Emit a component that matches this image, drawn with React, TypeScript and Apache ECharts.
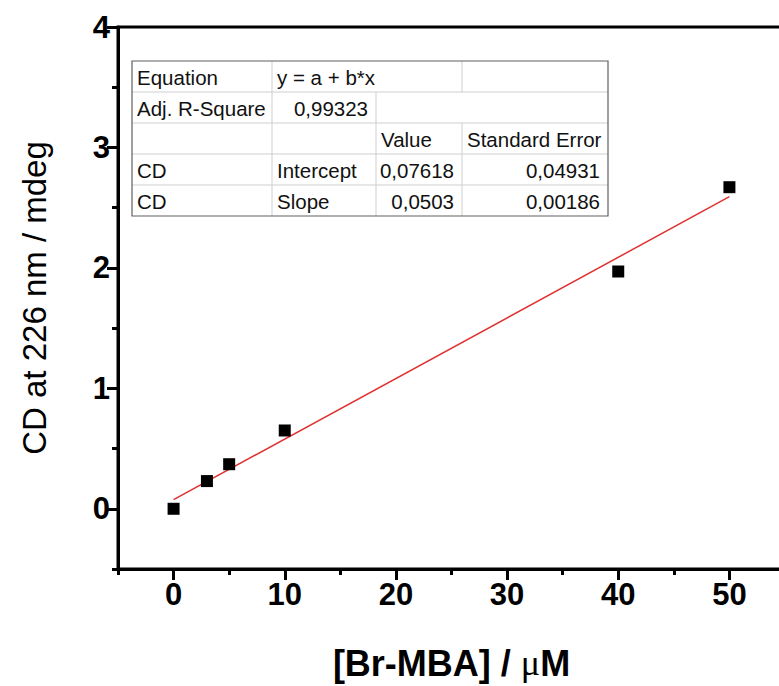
import React, { useEffect, useRef } from "react";
import * as echarts from "echarts";

const concentrations = [0, 3, 5, 10, 40, 50];
const cdValues = [0.0, 0.23, 0.37, 0.65, 1.97, 2.67];
const fitLine = [
  [0, 0.076],
  [50, 2.591],
];
const xMajorTicks = [0, 10, 20, 30, 40, 50];
const xMinorTicks = [-5, 5, 15, 25, 35, 45, 55];
const yMajorTicks = [0, 1, 2, 3, 4];
const yMinorTicks = [-0.5, 0.5, 1.5, 2.5, 3.5];

const tableRows = [
  ["Equation", "y = a + b*x", "", ""],
  ["Adj. R-Square", "0,99323", "", ""],
  ["", "", "Value", "Standard Error"],
  ["CD", "Intercept", "0,07618", "0,04931"],
  ["CD", "Slope", "0,0503", "0,00186"],
];

const FONT = "'Liberation Sans', Arial, Helvetica, sans-serif";

function buildTable() {
  const colX = [132, 272, 376, 462, 608];
  const top = 61;
  const rowH = 31;
  const elems: any[] = [];
  const nRows = tableRows.length;
  const bottom = top + rowH * nRows;
  elems.push({
    type: "rect",
    shape: { x: colX[0], y: top, width: colX[4] - colX[0], height: bottom - top },
    style: { fill: "#fff", stroke: "none" },
    z: 10,
  });
  for (let r = 1; r < nRows; r++) {
    elems.push({
      type: "line",
      shape: { x1: colX[0], y1: top + r * rowH, x2: colX[4], y2: top + r * rowH },
      style: { stroke: "#cfcfcf", lineWidth: 1 },
      z: 11,
    });
  }
  for (let r = 0; r < nRows; r++) {
    const y1 = top + r * rowH;
    const y2 = y1 + rowH;
    const cols = r === 0 ? [1, 3] : r === 1 ? [1, 2] : [1, 2, 3];
    cols.forEach((c) => {
      elems.push({
        type: "line",
        shape: { x1: colX[c], y1, x2: colX[c], y2 },
        style: { stroke: "#cfcfcf", lineWidth: 1 },
        z: 11,
      });
    });
  }
  elems.push({
    type: "rect",
    shape: { x: colX[0], y: top, width: colX[4] - colX[0], height: bottom - top },
    style: { fill: "none", stroke: "#606060", lineWidth: 1.2 },
    z: 12,
  });
  tableRows.forEach((row, r) => {
    row.forEach((txt, c) => {
      if (!txt) return;
      const isNum = /^[0-9]/.test(txt);
      const cy = top + r * rowH + rowH / 2 + 1;
      let x: number;
      let align: string;
      if (isNum) {
        x = colX[c + 1] - 8;
        align = "right";
      } else {
        x = colX[c] + 5;
        align = "left";
      }
      elems.push({
        type: "text",
        x,
        y: cy,
        style: {
          text: txt,
          fontSize: 20.5,
          fontFamily: FONT,
          fill: "#111",
          align,
          verticalAlign: "middle",
        },
        z: 13,
      });
    });
  });
  return elems;
}

export default function App() {
  const ref = useRef<HTMLDivElement>(null);
  useEffect(() => {
    if (!ref.current) return;
    const chart = echarts.init(ref.current, undefined, { renderer: "svg" });
    const axisLine = { show: true, onZero: false, lineStyle: { color: "#000", width: 3 } };
    chart.setOption({
      animation: false,
      backgroundColor: "#fff",
      grid: {
        left: 118,
        top: 27,
        right: 15,
        bottom: 114,
        show: true,
        borderColor: "#000",
        borderWidth: 3,
      },
      xAxis: [
        {
          type: "value",
          min: -5,
          max: 55,
          position: "bottom",
          axisLine,
          splitLine: { show: false },
          axisTick: {
            show: true,
            customValues: xMajorTicks,
            length: 11,
            lineStyle: { color: "#000", width: 3 },
          },
          axisLabel: {
            customValues: xMajorTicks,
            fontSize: 31,
            fontWeight: "bold",
            fontFamily: FONT,
            color: "#000",
            margin: 10,
            showMinLabel: true,
            showMaxLabel: true,
          },
          name: "[Br-MBA] / {mu|\u03bc}M",
          nameLocation: "middle",
          nameGap: 76,
          nameTextStyle: {
            fontSize: 36,
            fontWeight: "bold",
            fontFamily: FONT,
            color: "#000",
            rich: {
              mu: {
                fontSize: 36,
                fontWeight: "normal",
                fontFamily: "'Liberation Serif', 'DejaVu Serif', serif",
                color: "#000",
              },
            },
          },
        },
        {
          type: "value",
          min: -5,
          max: 55,
          position: "bottom",
          axisLine: { show: false, onZero: false },
          splitLine: { show: false },
          axisTick: {
            show: true,
            customValues: xMinorTicks,
            length: 6,
            lineStyle: { color: "#000", width: 3 },
          },
          axisLabel: { show: false },
        },
      ],
      yAxis: [
        {
          type: "value",
          min: -0.5,
          max: 4,
          position: "left",
          axisLine,
          splitLine: { show: false },
          axisTick: {
            show: true,
            customValues: yMajorTicks,
            length: 11,
            lineStyle: { color: "#000", width: 3 },
          },
          axisLabel: {
            customValues: yMajorTicks,
            fontSize: 31,
            fontWeight: "bold",
            fontFamily: FONT,
            color: "#000",
            margin: 8,
            showMinLabel: true,
            showMaxLabel: true,
          },
          name: "CD at 226 nm / mdeg",
          nameLocation: "middle",
          nameGap: 67,
          nameTextStyle: {
            fontSize: 33,
            fontFamily: FONT,
            color: "#000",
          },
        },
        {
          type: "value",
          min: -0.5,
          max: 4,
          position: "left",
          axisLine: { show: false, onZero: false },
          splitLine: { show: false },
          axisTick: {
            show: true,
            customValues: yMinorTicks,
            length: 6,
            lineStyle: { color: "#000", width: 3 },
          },
          axisLabel: { show: false },
        },
      ],
      series: [
        {
          type: "line",
          data: fitLine,
          symbol: "none",
          lineStyle: { color: "#e03030", width: 1.5 },
          z: 2,
        },
        {
          type: "scatter",
          data: concentrations.map((x, i) => [x, cdValues[i]]),
          symbol: "rect",
          symbolSize: 12,
          itemStyle: { color: "#000", opacity: 1 },
          z: 3,
        },
      ],
      graphic: buildTable(),
    });
    return () => chart.dispose();
  }, []);
  return (
    <div
      style={{
        position: "fixed",
        left: 0,
        top: 0,
        width: 779,
        height: 686,
        overflow: "hidden",
        background: "#fff",
      }}
    >
      <div ref={ref} style={{ width: 800, height: 686 }} />
    </div>
  );
}
